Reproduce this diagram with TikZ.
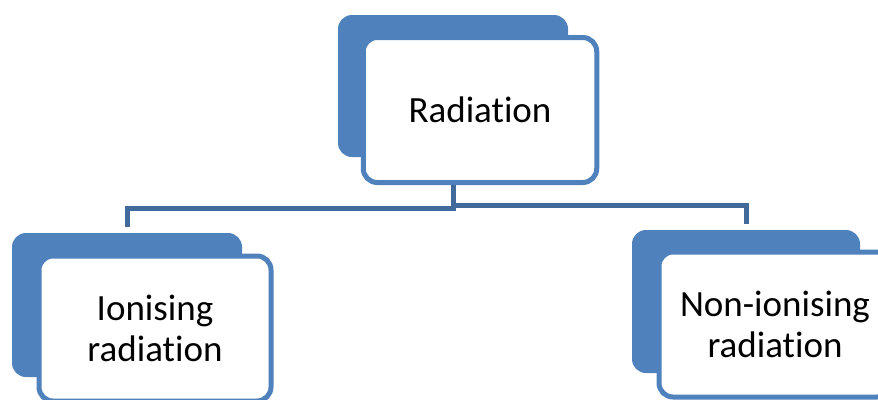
\documentclass[tikz,border=0pt]{standalone}
\usepackage{fontspec}
\setmainfont{Carlito}[RawFeature={-liga;-clig}]
\definecolor{accblue}{HTML}{4F81BD}
\definecolor{connblue}{HTML}{3F6A9B}
\tikzset{
  backbox/.style={draw=none, fill=accblue, rounded corners=14pt, inner sep=0pt},
  frontbox/.style={draw=accblue, fill=white, line width=5pt, rounded corners=14pt, inner sep=0pt,
    minimum width=232pt, minimum height=145pt, align=center,
    font=\fontsize{37}{41}\selectfont},
  conn/.style={draw=connblue, line width=5pt, line cap=butt, line join=miter}
}
\begin{document}
\begin{tikzpicture}[x=1pt,y=-1pt]
\useasboundingbox (0,0) rectangle (878,399);
\clip (0,0) rectangle (878,399);
% top
\node[backbox, minimum width=230pt, minimum height=142pt] (radback) at (453,86) {};
\node[frontbox, minimum width=233.5pt] (rad) at (480,110) {Radiation};
% left
\node[backbox, minimum width=230pt, minimum height=144pt] (ionback) at (127,305) {};
\node[frontbox] (ion) at (155,328.5) {Ionising\\radiation};
% right
\node[backbox, minimum width=228pt, minimum height=143pt] (nonback) at (746,301.5) {};
\node[frontbox] (non) at (775,324.5) {Non-ionising\\radiation};
% connectors
\coordinate (jl) at (453.5,208);
\coordinate (jr) at (453.5,205);
\coordinate (el) at (127,227);
\coordinate (er) at (746,224);
\draw[conn] (rad.south -| jl) -- (jl) -| (el);
\draw[conn] (jr) -| (er);
\end{tikzpicture}
\end{document}
